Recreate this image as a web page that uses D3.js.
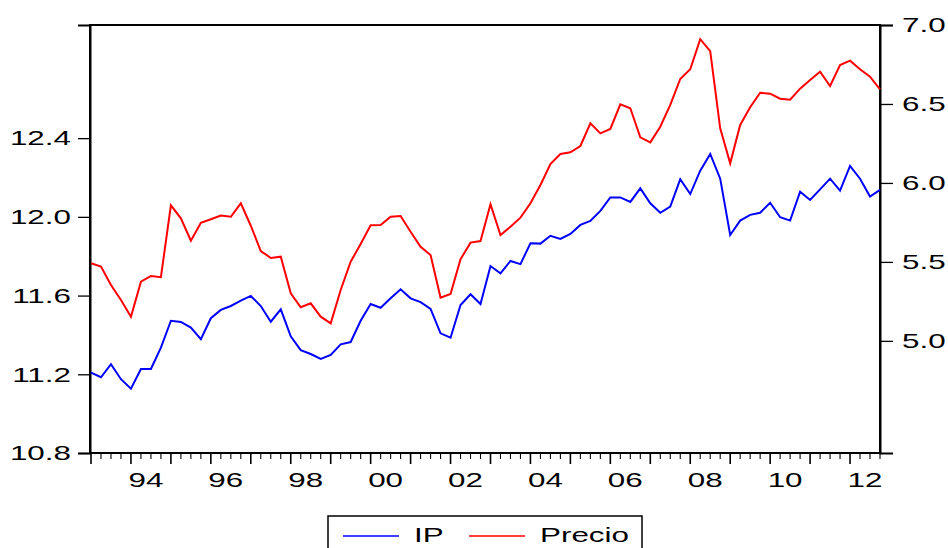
<!DOCTYPE html>
<html>
<head>
<meta charset="utf-8">
<script src="https://cdn.jsdelivr.net/npm/d3@7"></script>
<style>
  html, body { margin: 0; padding: 0; background: #fff; }
  svg { display: block; }
  text { font-family: "Liberation Sans", Arial, sans-serif; font-size: 20px; fill: #000; }
</style>
</head>
<body>
<svg id="chart" width="948" height="548"></svg>
<script>
// Quarterly observations, 1993Q1 .. 2012Q4
const startYear = 1993;
const ip = [
  11.208, 11.185, 11.251, 11.175, 11.127, 11.227, 11.227, 11.335,
  11.472, 11.466, 11.437, 11.378, 11.485, 11.527, 11.547, 11.574,
  11.598, 11.547, 11.467, 11.530, 11.393, 11.323, 11.303, 11.278,
  11.298, 11.352, 11.364, 11.472, 11.557, 11.538, 11.586, 11.632,
  11.586, 11.567, 11.532, 11.408, 11.386, 11.552, 11.607, 11.557,
  11.750, 11.713, 11.776, 11.760, 11.866, 11.864, 11.904, 11.888,
  11.913, 11.959, 11.979, 12.030, 12.099, 12.099, 12.076, 12.145,
  12.069, 12.021, 12.052, 12.191, 12.116, 12.235, 12.320, 12.194,
  11.908, 11.981, 12.010, 12.021, 12.072, 11.998, 11.981, 12.128,
  12.086, 12.140, 12.194, 12.133, 12.259, 12.194, 12.103, 12.137
];
const precio = [
  5.491, 5.470, 5.354, 5.259, 5.153, 5.375, 5.411, 5.403,
  5.858, 5.776, 5.634, 5.748, 5.770, 5.793, 5.786, 5.871,
  5.729, 5.569, 5.525, 5.533, 5.301, 5.213, 5.238, 5.153,
  5.111, 5.322, 5.501, 5.613, 5.732, 5.734, 5.786, 5.791,
  5.691, 5.596, 5.544, 5.273, 5.297, 5.517, 5.622, 5.632,
  5.865, 5.670, 5.723, 5.780, 5.871, 5.987, 6.120, 6.183,
  6.194, 6.234, 6.378, 6.314, 6.342, 6.498, 6.473, 6.289,
  6.257, 6.356, 6.494, 6.658, 6.720, 6.910, 6.835, 6.346,
  6.124, 6.367, 6.479, 6.571, 6.565, 6.533, 6.527, 6.597,
  6.652, 6.704, 6.614, 6.747, 6.774, 6.720, 6.673, 6.593
];
const yearLabels = ["94", "96", "98", "00", "02", "04", "06", "08", "10", "12"];
const labelYears = [1994, 1996, 1998, 2000, 2002, 2004, 2006, 2008, 2010, 2012];
const leftTicks = [10.8, 11.2, 11.6, 12.0, 12.4];
const rightTicks = [5.0, 5.5, 6.0, 6.5, 7.0];
const seriesNames = ["IP", "Precio"];
const seriesColors = ["#0000ff", "#ff0000"];

const L = 91, R = 880, T = 25, B = 453;
const SX = 1.57; // horizontal stretch of the lettering

const svg = d3.select("#chart");
const n = ip.length;
const x = d3.scaleLinear().domain([0, n - 1]).range([L, R]);
const yL = d3.scaleLinear().domain([10.8, 12.975]).range([B, T]);
const yR = d3.scaleLinear().domain([4.29, 7.0]).range([B, T]);

// frame
svg.append("rect").attr("x", L - 1).attr("y", T).attr("width", R - L + 1).attr("height", B - T)
  .attr("fill", "none").attr("stroke", "#000").attr("stroke-width", 2);

// left axis
const gl = svg.append("g").attr("transform", `translate(${L - 1},0)`)
  .call(d3.axisLeft(yL).tickValues(leftTicks).tickSize(12).tickFormat(d3.format(".1f")));
gl.select(".domain").attr("stroke-width", 2);
gl.selectAll(".tick line").attr("stroke-width", 1.3);
gl.selectAll(".tick text").attr("x", null).attr("dy", null)
  .attr("font-family", null).attr("font-size", null)
  .attr("text-anchor", "end").attr("dominant-baseline", "central")
  .attr("transform", `translate(-19,0) scale(${SX},1)`);

// right axis
const gr = svg.append("g").attr("transform", `translate(${R},0)`)
  .call(d3.axisRight(yR).tickValues(rightTicks).tickSize(13).tickFormat(d3.format(".1f")));
gr.select(".domain").attr("stroke-width", 2);
gr.selectAll(".tick line").attr("stroke-width", 1.3);
gr.selectAll(".tick text").attr("x", null).attr("dy", null)
  .attr("font-family", null).attr("font-size", null)
  .attr("text-anchor", "start").attr("dominant-baseline", "central")
  .attr("transform", `translate(22,0) scale(${SX},1)`);

// bottom axis: quarterly minor ticks, yearly major ticks
const idx = d3.range(n);
const gb = svg.append("g").attr("transform", `translate(0,${B})`);
gb.append("line").attr("x1", L - 2).attr("x2", R + 1).attr("stroke", "#000").attr("stroke-width", 2);
gb.selectAll("line.q").data(idx).join("line").attr("class", "q")
  .attr("x1", d => x(d)).attr("x2", d => x(d))
  .attr("y1", 0).attr("y2", d => d % 4 === 0 ? 11 : 6)
  .attr("stroke", "#000").attr("stroke-width", d => d % 4 === 0 ? 1.6 : 1.1);
gb.selectAll("text.yl").data(labelYears).join("text").attr("class", "yl")
  .attr("text-anchor", "middle")
  .attr("transform", d => `translate(${x((d - startYear) * 4 + 1.5)},34) scale(${SX},1)`)
  .text((d, i) => yearLabels[i]);

// lines
const lineL = d3.line().x((d, i) => x(i)).y(d => yL(d));
const lineR = d3.line().x((d, i) => x(i)).y(d => yR(d));
svg.append("path").datum(precio).attr("d", lineR).attr("fill", "none")
  .attr("stroke", seriesColors[1]).attr("stroke-width", 2).attr("stroke-linejoin", "miter");
svg.append("path").datum(ip).attr("d", lineL).attr("fill", "none")
  .attr("stroke", seriesColors[0]).attr("stroke-width", 2).attr("stroke-linejoin", "miter");

// legend
const lg = svg.append("g");
lg.append("rect").attr("x", 328).attr("y", 516).attr("width", 314).attr("height", 60)
  .attr("fill", "#fff").attr("stroke", "#000").attr("stroke-width", 1.5);
const legendItems = [
  { name: seriesNames[0], color: seriesColors[0], x0: 343 },
  { name: seriesNames[1], color: seriesColors[1], x0: 469 }
];
legendItems.forEach(it => {
  lg.append("line").attr("x1", it.x0).attr("x2", it.x0 + 56).attr("y1", 536).attr("y2", 536)
    .attr("stroke", it.color).attr("stroke-width", 1.6);
  lg.append("text").attr("transform", `translate(${it.x0 + 71},542) scale(${SX},1)`).text(it.name);
});
</script>
</body>
</html>
